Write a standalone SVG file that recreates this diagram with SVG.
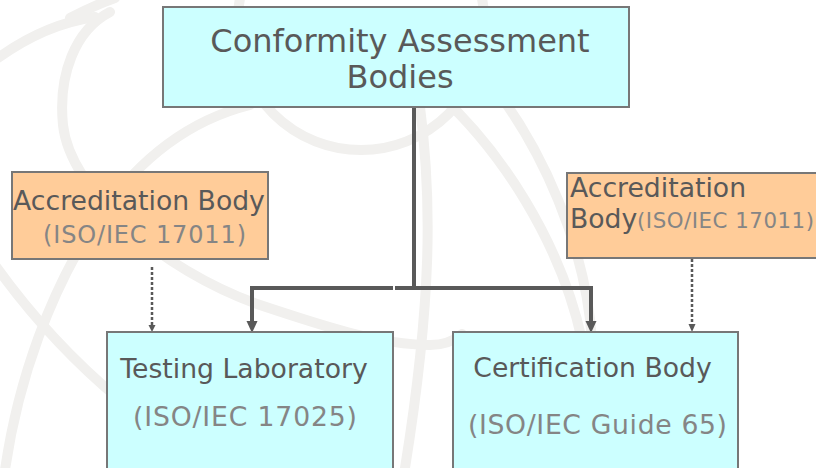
<svg xmlns="http://www.w3.org/2000/svg" width="816" height="468" viewBox="0 0 816 468">
  <defs>
    <style>
      .wm { fill: none; stroke: #f1f0ee; stroke-width: 10; stroke-linecap: round; }
      .cyan { fill: #ccffff; stroke: #777777; stroke-width: 2; }
      .peach { fill: #ffcc99; stroke: #777777; stroke-width: 2; }
      .t { font-family: "DejaVu Sans", Verdana, sans-serif; fill: #595959; }
      .g { font-family: "DejaVu Sans", Verdana, sans-serif; fill: #858585; }
      .conn { fill: none; stroke: #595959; stroke-width: 4; }
      .dot { fill: none; stroke: #595959; stroke-width: 2.5; stroke-dasharray: 3 2; }
      .head { fill: #595959; }
    </style>
  </defs>

  <rect width="816" height="468" fill="#ffffff"/>

  <g id="watermark">
    <path class="wm" d="M -2 58 C 30 35, 60 22, 95 17"/>
    <path class="wm" d="M 70 18 Q 95 5 115 -2"/>
    <path class="wm" d="M 110 12 C 75 30, 58 75, 63 125 C 70 190, 160 270, 260 305 C 320 325, 380 345, 430 345 C 445 345, 455 340, 462 334"/>
    <path class="wm" d="M 5 470 C 18 380, 50 290, 100 215 C 140 158, 190 120, 250 105"/>
    <path class="wm" d="M -5 265 C 20 300, 60 350, 120 400"/>
    <circle class="wm" cx="361" cy="26" r="124"/>
    <path class="wm" d="M 440 95 C 500 150, 560 240, 582 340"/>
    <path class="wm" d="M 500 95 C 540 150, 585 240, 592 340"/>
    <path class="wm" d="M 420 107 C 432 200, 432 300, 405 468"/>
  </g>

  <g id="connectors">
    <line class="conn" x1="414" y1="107" x2="414" y2="290"/>
    <path class="conn" d="M 393 288 H 252 V 322"/>
    <path class="conn" d="M 395 288 H 591 V 322"/>
    <path class="head" d="M 246.5 321 L 257.5 321 L 252 333 Z"/>
    <path class="head" d="M 585.5 321 L 596.5 321 L 591 333 Z"/>
    <line class="dot" x1="152" y1="267" x2="152" y2="326"/>
    <path class="head" d="M 148.5 325 L 155.5 325 L 152 332 Z"/>
    <line class="dot" x1="692" y1="259" x2="692" y2="325"/>
    <path class="head" d="M 688.5 324 L 695.5 324 L 692 332 Z"/>
  </g>

  <g id="conformity-assessment-bodies">
    <rect class="cyan" x="163" y="7" width="466" height="100"/>
    <text class="t" x="400" y="52" font-size="32" text-anchor="middle">Conformity Assessment</text>
    <text class="t" x="400" y="88" font-size="32" text-anchor="middle">Bodies</text>
  </g>

  <g id="accreditation-body-left">
    <rect class="peach" x="12" y="172" width="256" height="87"/>
    <text class="t" x="139" y="210" font-size="26.67" text-anchor="middle">Accreditation Body</text>
    <text class="g" x="144.5" y="243" font-size="24" text-anchor="middle" textLength="203" lengthAdjust="spacing">(ISO/IEC 17011)</text>
  </g>

  <g id="accreditation-body-right">
    <rect class="peach" x="567" y="173" width="262" height="85"/>
    <text class="t" x="570" y="197" font-size="26.67">Accreditation</text>
    <text class="t" x="570" y="228" font-size="26.67">Body</text>
    <text class="g" x="637" y="228" font-size="21.33" textLength="177" lengthAdjust="spacing">(ISO/IEC 17011)</text>
  </g>

  <g id="testing-laboratory">
    <rect class="cyan" x="107" y="332" width="286" height="150"/>
    <text class="t" x="244" y="378" font-size="26.67" text-anchor="middle">Testing Laboratory</text>
    <text class="g" x="245" y="426" font-size="26.67" text-anchor="middle" textLength="224" lengthAdjust="spacing">(ISO/IEC 17025)</text>
  </g>

  <g id="certification-body">
    <rect class="cyan" x="453" y="332" width="285" height="150"/>
    <text class="t" x="592.5" y="377" font-size="26.67" text-anchor="middle">Certification Body</text>
    <text class="g" x="597.5" y="434" font-size="26.67" text-anchor="middle" textLength="259" lengthAdjust="spacing">(ISO/IEC Guide 65)</text>
  </g>
</svg>
